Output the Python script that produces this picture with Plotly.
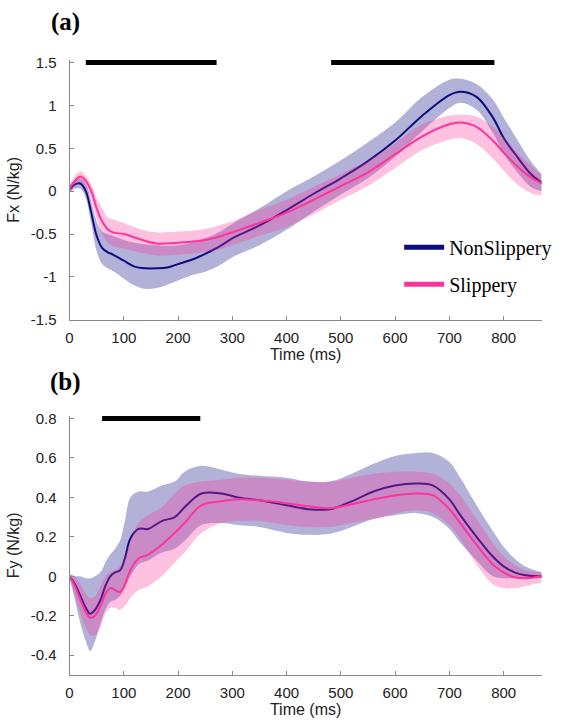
import plotly.graph_objects as go

# ---------------- Panel (a): Fx ----------------
t_a = [0, 10, 20, 30, 40, 50, 60, 70, 80, 100, 120, 140, 160, 180, 200, 225, 250, 275, 300,
       350, 400, 450, 500, 550, 600, 650, 700, 720, 750, 780, 800, 825, 850, 870]
fx_non_mean = [0.02, 0.08, 0.09, 0.0, -0.25, -0.52, -0.66, -0.71, -0.74, -0.81, -0.88, -0.90, -0.90, -0.89,
               -0.85, -0.80, -0.73, -0.65, -0.55, -0.40, -0.22, -0.03, 0.15, 0.35, 0.59, 0.88, 1.12, 1.16,
               1.10, 0.86, 0.62, 0.40, 0.20, 0.10]
fx_non_lo = [-0.02, 0.03, 0.03, -0.08, -0.38, -0.70, -0.85, -0.90, -0.93, -1.02, -1.10, -1.14, -1.13, -1.09,
             -1.04, -0.98, -0.94, -0.87, -0.77, -0.63, -0.45, -0.24, -0.04, 0.15, 0.40, 0.70, 0.97, 1.03,
             0.95, 0.68, 0.44, 0.22, 0.05, 0.0]
fx_non_hi = [0.06, 0.13, 0.15, 0.08, -0.12, -0.35, -0.47, -0.50, -0.52, -0.57, -0.60, -0.62, -0.63, -0.64,
             -0.63, -0.60, -0.55, -0.48, -0.38, -0.20, 0.0, 0.17, 0.36, 0.57, 0.80, 1.10, 1.30, 1.31,
             1.25, 1.07, 0.86, 0.60, 0.35, 0.20]
fx_sl_mean = [0.03, 0.12, 0.17, 0.12, 0.0, -0.20, -0.35, -0.44, -0.48, -0.50, -0.54, -0.58, -0.61, -0.61,
              -0.60, -0.59, -0.57, -0.53, -0.48, -0.37, -0.25, -0.10, 0.06, 0.22, 0.43, 0.64, 0.78, 0.80,
              0.75, 0.59, 0.45, 0.29, 0.16, 0.09]
fx_sl_lo = [-0.01, 0.06, 0.11, 0.04, -0.10, -0.32, -0.50, -0.60, -0.64, -0.67, -0.70, -0.73, -0.75, -0.75,
            -0.74, -0.73, -0.71, -0.68, -0.63, -0.52, -0.42, -0.27, -0.10, 0.06, 0.27, 0.48, 0.60, 0.62,
            0.55, 0.38, 0.24, 0.08, -0.02, -0.05]
fx_sl_hi = [0.07, 0.18, 0.23, 0.18, 0.08, -0.08, -0.20, -0.30, -0.33, -0.37, -0.42, -0.46, -0.48, -0.48,
            -0.47, -0.46, -0.44, -0.40, -0.35, -0.22, -0.10, 0.05, 0.20, 0.36, 0.56, 0.78, 0.88, 0.89,
            0.87, 0.75, 0.63, 0.45, 0.30, 0.18]
sig_a = [(30, 271), (482, 783)]

# ---------------- Panel (b): Fy ----------------
t_b = [0, 10, 20, 30, 38, 47, 57, 66, 75, 84, 93, 102, 112, 127, 145, 170, 194, 212, 243, 280, 310,
       350, 400, 440, 480, 520, 560, 600, 640, 670, 700, 720, 750, 780, 800, 820, 840, 870]
fy_non_mean = [0.0, -0.04, -0.10, -0.16, -0.19, -0.17, -0.12, -0.05, 0.0, 0.02, 0.03, 0.09, 0.19, 0.24,
               0.24, 0.28, 0.30, 0.35, 0.42, 0.42, 0.40, 0.385, 0.36, 0.34, 0.34, 0.38, 0.43, 0.46, 0.47,
               0.46, 0.39, 0.31, 0.20, 0.10, 0.05, 0.02, 0.005, 0.0]
fy_non_lo = [-0.01, -0.12, -0.24, -0.33, -0.38, -0.33, -0.24, -0.17, -0.13, -0.12, -0.10, -0.06, 0.0, 0.06,
             0.08, 0.12, 0.14, 0.18, 0.26, 0.27, 0.26, 0.25, 0.22, 0.21, 0.215, 0.25, 0.29, 0.31, 0.32,
             0.30, 0.24, 0.17, 0.08, 0.0, -0.01, -0.01, -0.01, -0.01]
fy_non_hi = [0.01, 0.0, 0.0, -0.01, -0.01, 0.0, 0.02, 0.07, 0.11, 0.14, 0.18, 0.28, 0.40, 0.43, 0.43, 0.46,
             0.48, 0.53, 0.56, 0.54, 0.52, 0.51, 0.50, 0.48, 0.48, 0.52, 0.57, 0.61, 0.625, 0.625, 0.58,
             0.50, 0.36, 0.23, 0.15, 0.09, 0.05, 0.02]
fy_sl_mean = [0.0, -0.05, -0.12, -0.18, -0.21, -0.20, -0.15, -0.09, -0.06, -0.07, -0.08, -0.04, 0.03, 0.09,
              0.11, 0.16, 0.22, 0.27, 0.36, 0.38, 0.39, 0.385, 0.37, 0.355, 0.345, 0.365, 0.39, 0.41, 0.42,
              0.41, 0.34, 0.27, 0.16, 0.06, 0.02, -0.005, -0.01, 0.0]
fy_sl_lo = [-0.01, -0.10, -0.19, -0.26, -0.30, -0.30, -0.26, -0.19, -0.16, -0.16, -0.17, -0.15, -0.11, -0.07,
            -0.05, 0.0, 0.07, 0.12, 0.22, 0.27, 0.28, 0.28, 0.26, 0.25, 0.25, 0.27, 0.29, 0.32, 0.335,
            0.32, 0.26, 0.19, 0.06, -0.04, -0.06, -0.06, -0.05, -0.03]
fy_sl_hi = [0.01, 0.0, -0.04, -0.09, -0.11, -0.10, -0.05, 0.0, 0.02, 0.03, 0.05, 0.10, 0.18, 0.27, 0.31,
            0.35, 0.42, 0.46, 0.48, 0.49, 0.50, 0.50, 0.49, 0.48, 0.48, 0.50, 0.52, 0.53, 0.53, 0.52,
            0.47, 0.41, 0.29, 0.17, 0.10, 0.06, 0.03, 0.02]
sig_b = [(60, 241)]

x_ticks = [0, 100, 200, 300, 400, 500, 600, 700, 800]
ya_ticks = [-1.5, -1, -0.5, 0, 0.5, 1, 1.5]
ya_text = ["-1.5", "-1", "-0.5", "0", "0.5", "1", "1.5"]
yb_ticks = [-0.4, -0.2, 0, 0.2, 0.4, 0.6, 0.8]
yb_text = ["-0.4", "-0.2", "0", "0.2", "0.4", "0.6", "0.8"]

NAVY = "#0c0c80"
PINK = "#ff3399"
NAVY_BAND = "rgba(0,0,128,0.30)"
PINK_BAND = "rgba(255,51,153,0.30)"

fig = go.Figure()


def add_panel(xa, ya, t, nm, nlo, nhi, sm, slo, shi, sig, ysig):
    common = dict(xaxis=xa, yaxis=ya, hoverinfo="skip", showlegend=False, line_shape="spline")
    fig.add_trace(go.Scatter(x=t, y=nlo, mode="lines", line=dict(width=0, color=NAVY_BAND), **common))
    fig.add_trace(go.Scatter(x=t, y=nhi, mode="lines", line=dict(width=0, color=NAVY_BAND),
                             fill="tonexty", fillcolor=NAVY_BAND, **common))
    fig.add_trace(go.Scatter(x=t, y=nm, mode="lines", line=dict(width=2, color=NAVY), **common))
    fig.add_trace(go.Scatter(x=t, y=slo, mode="lines", line=dict(width=0, color=PINK_BAND), **common))
    fig.add_trace(go.Scatter(x=t, y=shi, mode="lines", line=dict(width=0, color=PINK_BAND),
                             fill="tonexty", fillcolor=PINK_BAND, **common))
    fig.add_trace(go.Scatter(x=t, y=sm, mode="lines", line=dict(width=2, color=PINK), **common))
    for a, b in sig:
        fig.add_trace(go.Scatter(x=[a, b], y=[ysig, ysig], mode="lines",
                                 line=dict(width=5, color="black"), xaxis=xa, yaxis=ya,
                                 hoverinfo="skip", showlegend=False))


add_panel("x", "y", t_a, fx_non_mean, fx_non_lo, fx_non_hi, fx_sl_mean, fx_sl_lo, fx_sl_hi, sig_a, 1.5)
add_panel("x2", "y2", t_b, fy_non_mean, fy_non_lo, fy_non_hi, fy_sl_mean, fy_sl_lo, fy_sl_hi, sig_b, 0.8)

# legend entries
fig.add_trace(go.Scatter(x=[None], y=[None], mode="lines", name="NonSlippery",
                         line=dict(width=5, color=NAVY), legendgroup="a"))
fig.add_trace(go.Scatter(x=[None], y=[None], mode="lines", name="Slippery",
                         line=dict(width=5, color=PINK), legendgroup="b"))

SANS = "Liberation Sans, Arial, sans-serif"
SERIF = "Liberation Serif, Times New Roman, serif"
AX_COLOR = "#8a8a8a"
TICK_FONT = dict(family=SANS, size=15, color="#222222")
TITLE_FONT = dict(family=SANS, size=16, color="#222222")

xdom = [66 / 563, 541.5 / 563]
xcommon = dict(range=[0, 870], tickvals=x_ticks, ticks="inside", ticklen=4, tickcolor=AX_COLOR,
               showline=True, linecolor=AX_COLOR, linewidth=1, showgrid=False, zeroline=False,
               tickfont=TICK_FONT, mirror=False, domain=xdom, ticklabelstandoff=4,
               title=dict(text="Time (ms)", font=TITLE_FONT, standoff=3))
ycommon = dict(ticks="inside", ticklen=4, tickcolor=AX_COLOR, showline=True, linecolor=AX_COLOR,
               linewidth=1, showgrid=False, zeroline=False, tickfont=TICK_FONT, ticklabelstandoff=9)

fig.update_layout(
    width=563, height=727,
    margin=dict(l=0, r=0, t=0, b=0),
    paper_bgcolor="white", plot_bgcolor="white",
    xaxis=dict(anchor="y", **xcommon),
    xaxis2=dict(anchor="y2", **xcommon),
    yaxis=dict(anchor="x", range=[-1.5, 1.53], tickvals=ya_ticks, ticktext=ya_text,
               domain=[1 - 320 / 727, 1 - 55 / 727],
               title=dict(text="Fx (N/kg)", font=TITLE_FONT, standoff=7),
               **ycommon),
    yaxis2=dict(anchor="x2", range=[-0.5, 0.813], tickvals=yb_ticks, ticktext=yb_text,
                domain=[1 - 682 / 727, 1 - 418 / 727],
                title=dict(text="Fy (N/kg)", font=TITLE_FONT, standoff=7),
                **ycommon),
    legend=dict(x=398 / 563, y=1 - 226 / 727, xanchor="left", yanchor="top",
                font=dict(family=SERIF, size=20, color="black"), bgcolor="rgba(0,0,0,0)",
                tracegroupgap=8, itemwidth=40),
    annotations=[
        dict(text="<b>(a)</b>", x=62 / 563, y=1 - 16 / 727, xref="paper", yref="paper",
             xanchor="center", yanchor="middle",
             showarrow=False, font=dict(family=SERIF, size=25, color="black")),
        dict(text="<b>(b)</b>", x=62 / 563, y=1 - 383 / 727, xref="paper", yref="paper",
             xanchor="center", yanchor="middle",
             showarrow=False, font=dict(family=SERIF, size=25, color="black")),
    ],
)

fig.write_html("out.html")
